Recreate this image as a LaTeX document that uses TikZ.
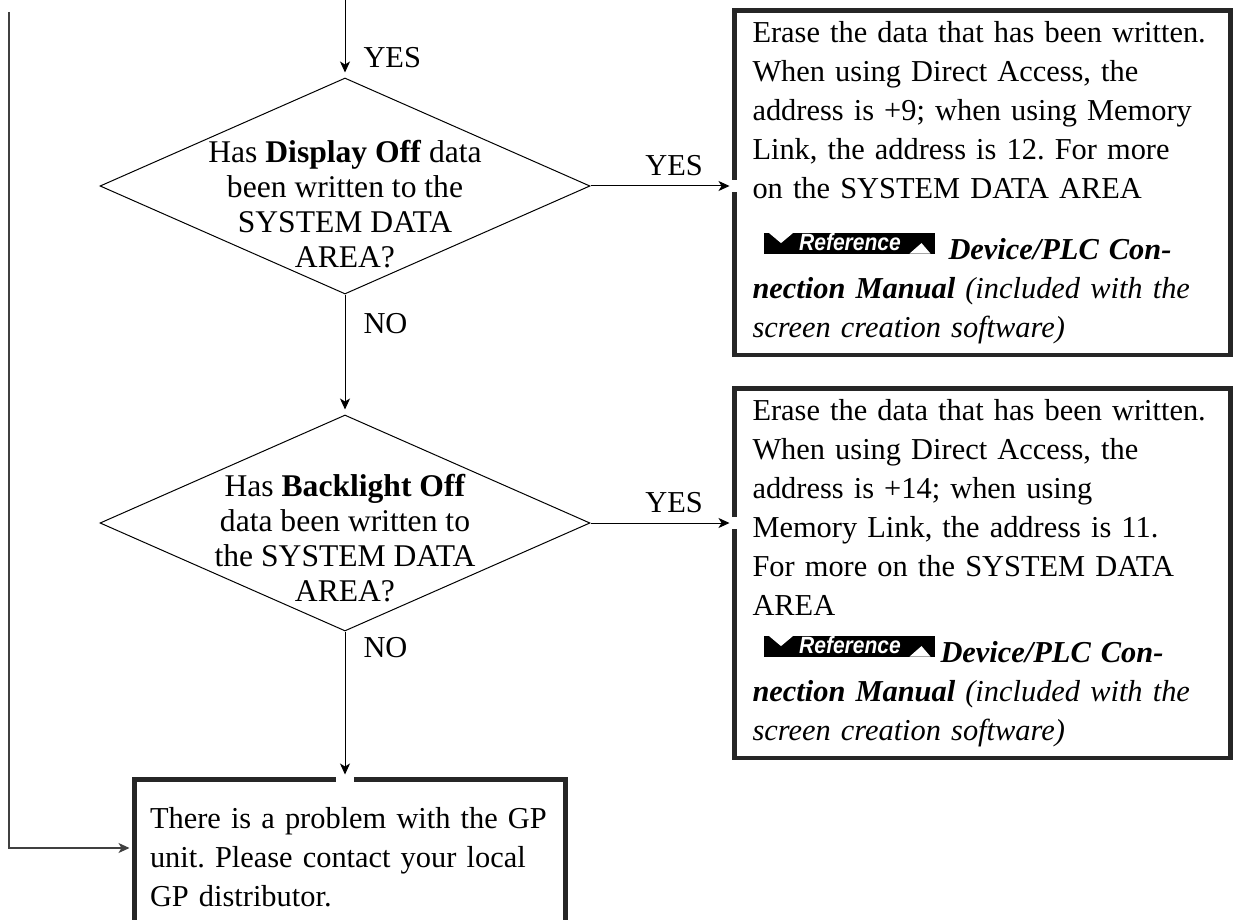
\documentclass[tikz,border=0pt]{standalone}
\usepackage{fontspec}
\setmainfont{Liberation Serif}
\setsansfont{Liberation Sans}
\usetikzlibrary{shapes.geometric, arrows.meta, positioning, calc}

\newcommand{\notefont}{\frenchspacing\fontsize{15.2}{19.5}\selectfont}
\newcommand{\askfont}{\fontsize{15.8}{17.5}\selectfont}
% black "Reference" tag used in the note boxes
\newcommand{\refbadge}{\raisebox{3pt}{\rlap{\tikz[x=0.5pt,y=0.5pt]{\fill[black] (0,0) rectangle (171,21); \fill[white] (5,21) -- (30,21) -- (17.5,10.5) -- cycle; \fill[white] (146,0) -- (167,0) -- (158,10.5) -- cycle;}}\makebox[85.5pt][c]{\hspace{1pt}\raisebox{1.4pt}{\scalebox{1}[1.12]{\textcolor{white}{\sffamily\bfseries\itshape\fontsize{10.5}{10}\selectfont Reference}}}}}}

\begin{document}
\begin{tikzpicture}[
    x=0.5pt, y=-0.5pt,
    decision/.style={draw, diamond, line width=0.5pt, minimum width=245pt, minimum height=108pt, inner sep=0pt},
    qtext/.style={align=center, inner sep=0pt, font=\askfont},
    notebox/.style={draw=black!85, line width=2.2pt, anchor=north west, align=left, inner xsep=9pt, inner ysep=5.5pt, outer sep=0pt, font=\notefont},
    answer/.style={inner sep=0pt, font=\notefont},
    flow/.style={draw, line width=0.5pt, -{Stealth[length=5.5pt, width=5pt, inset=1.5pt]}, shorten >=2.5pt}
]
\useasboundingbox (0,0) rectangle (1234,919);
\clip (0,0) rectangle (1234,919);

\coordinate (top) at (345,0);
\coordinate (loop) at (9,12);

\node[decision, label={[qtext, yshift=-9pt]center:Has \textbf{Display Off} data\\been written to the\\SYSTEM DATA\\AREA?}] (dispoff) at (345,186) {};
\node[decision, below=60pt of dispoff, label={[qtext, yshift=-7.5pt]center:Has \textbf{Backlight Off}\\data been written to\\the SYSTEM DATA\\AREA?}] (lightoff) {};

\node[notebox, text width=230pt] (dispnote) at (734.5,10.5) {Erase the data that has been written.\\
When using Direct Access, the\\
address is +9; when using Memory\\
Link, the address is 12. For more\\
on the SYSTEM DATA AREA\\[11pt]
\hspace*{5.5pt}\refbadge\hspace{7pt}\textbf{\textit{Device/PLC Con-}}\\
\textbf{\textit{nection Manual}} \textit{(included with the}\\
\textit{screen creation software)}};

\node[notebox, text width=230pt] (lightnote) at (734.5,388.5) {Erase the data that has been written.\\
When using Direct Access, the\\
address is +14; when using\\
Memory Link, the address is 11.\\
For more on the SYSTEM DATA\\
AREA\\[4pt]
\hspace*{5.5pt}\refbadge\hspace{3pt}\textbf{\textit{Device/PLC Con-}}\\
\textbf{\textit{nection Manual}} \textit{(included with the}\\
\textit{screen creation software)}};

\node[notebox, text width=200pt, inner xsep=7.75pt, inner ysep=14pt] (gpnote) at (134.5,779.5) {There is a problem with the GP\\
unit. Please contact your local\\
GP distributor.};

% small gaps in the thick borders where the arrows come in
\fill[white] ($(dispoff.east -| dispnote.west)+(-3,-6)$) rectangle ++(6,12);
\fill[white] ($(lightoff.east -| lightnote.west)+(-3,-6)$) rectangle ++(6,12);
\fill[white] ($(lightoff.south |- gpnote.north)+(-9,-3)$) rectangle ++(18,6);

\draw[flow] (top) -- (dispoff.north) node[answer, pos=0.74, right=9pt] {YES};
\draw[flow] (dispoff.east) -- (dispoff.east -| dispnote.west) node[answer, pos=0.58, above=5pt] {YES};
\draw[flow] (dispoff.south) -- (lightoff.north) node[answer, pos=0.24, right=9pt] {NO};
\draw[flow] (lightoff.east) -- (lightoff.east -| lightnote.west) node[answer, pos=0.58, above=5pt] {YES};
\draw[flow] (lightoff.south) -- (lightoff.south |- gpnote.north) node[answer, pos=0.11, right=9pt] {NO};
\draw[flow, draw=black!75, line width=0.6pt] (loop) |- ([yshift=-34.25pt]gpnote.north west);

\end{tikzpicture}
\end{document}
